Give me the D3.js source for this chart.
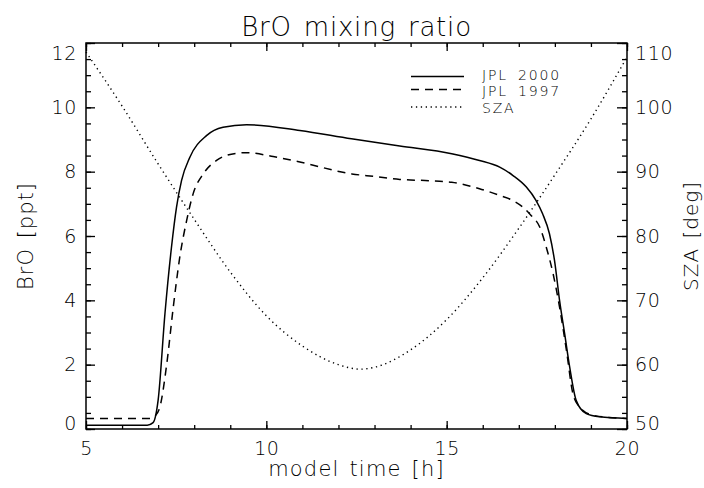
<!DOCTYPE html>
<html>
<head>
<meta charset="utf-8">
<script src="https://cdn.jsdelivr.net/npm/d3@7"></script>
<style>
  body { margin: 0; background: #fff; }
  svg text { font-family: "DejaVu Sans", sans-serif; font-weight: 200; fill: #000; }
</style>
</head>
<body>
<div id="chart"></div>
<script>
// model time [h] and BrO [ppt]
let timeJPL2000 = [5, 6, 6.7, 6.86, 7.0, 7.19, 7.37, 7.51, 7.65, 7.88, 8.34, 8.8, 9.45, 10.93, 12.36, 13.7, 15.14, 15.91, 16.47, 16.84, 17.21, 17.48, 17.66, 17.85, 17.99, 18.13, 18.27, 18.41, 18.59, 18.87, 19.24, 20];
let brJPL2000 = [0.12, 0.12, 0.12, 0.2, 0.9, 3.6, 5.65, 6.9, 7.73, 8.45, 9.12, 9.38, 9.46, 9.28, 9.02, 8.8, 8.56, 8.35, 8.14, 7.88, 7.52, 7.1, 6.69, 6.07, 5.24, 4.0, 2.97, 1.93, 0.89, 0.48, 0.38, 0.33];

let timeJPL1997 = [5, 6, 6.8, 6.91, 7.05, 7.24, 7.42, 7.6, 7.79, 7.97, 8.25, 8.62, 9.17, 9.45, 10.19, 10.93, 12.37, 13.0, 13.7, 14.5, 15.14, 15.91, 16.47, 16.84, 17.11, 17.34, 17.58, 17.76, 17.95, 18.13, 18.32, 18.5, 18.68, 19.05, 19.5, 20];
let brJPL1997 = [0.33, 0.33, 0.33, 0.4, 0.69, 2.03, 3.79, 5.34, 6.48, 7.31, 7.93, 8.35, 8.57, 8.59, 8.47, 8.3, 7.93, 7.85, 7.76, 7.72, 7.67, 7.47, 7.26, 7.1, 6.9, 6.64, 6.28, 5.66, 4.83, 3.79, 2.45, 1.10, 0.69, 0.43, 0.36, 0.33];

// solar zenith angle [deg]
let timeSZA = [5, 6, 7, 8, 9, 10, 11, 12, 12.6, 13, 14, 15, 16, 17, 18, 19, 20];
let sza = [108.6, 100.2, 91.2, 82.6, 74.4, 67.6, 62.9, 60.0, 59.3, 59.6, 62.3, 67.0, 73.5, 81.2, 89.5, 98.2, 107.8];

let xTicks = [5, 10, 15, 20];
let yLeftTicks = [0, 2, 4, 6, 8, 10, 12];
let yRightTicks = [50, 60, 70, 80, 90, 100, 110];

let legendLabels = ["JPL 2000", "JPL 1997", "SZA"];

let width = 704;
let height = 488;
let margin = {left: 86, right: 77, top: 43, bottom: 59};
let plotW = width - margin.left - margin.right;
let plotH = height - margin.top - margin.bottom;

let x = d3.scaleLinear().domain([5, 20]).range([0, plotW]);
let yL = d3.scaleLinear().domain([0, 12]).range([plotH, 0]);
let yR = d3.scaleLinear().domain([50, 110]).range([plotH, 0]);

let svg = d3.select("#chart")
	.append("svg")
	.attr("width", width)
	.attr("height", height);

let g = svg.append("g")
	.attr("transform", "translate(" + margin.left + "," + margin.top + ")");

// minor ticks
let minorX = d3.range(5, 20.01, 1);
let minorL = d3.range(0, 12.01, 0.5);
let minorR = d3.range(50, 110.01, 2.5);

function noLabels(axis) { return axis.tickFormat(""); }

g.append("g").attr("transform", "translate(0," + plotH + ")")
	.call(noLabels(d3.axisBottom(x).tickValues(minorX).tickSizeInner(-4).tickSizeOuter(0)));
g.append("g")
	.call(noLabels(d3.axisTop(x).tickValues(minorX).tickSizeInner(-4).tickSizeOuter(0)));
g.append("g")
	.call(noLabels(d3.axisLeft(yL).tickValues(minorL).tickSizeInner(-5).tickSizeOuter(0)));
g.append("g").attr("transform", "translate(" + plotW + ",0)")
	.call(noLabels(d3.axisRight(yR).tickValues(minorR).tickSizeInner(-5).tickSizeOuter(0)));

// major ticks with labels
let xAxis = g.append("g").attr("class", "axis").attr("transform", "translate(0," + plotH + ")")
	.call(d3.axisBottom(x).tickValues(xTicks).tickSizeInner(-8).tickSizeOuter(0).tickPadding(13));
g.append("g")
	.call(noLabels(d3.axisTop(x).tickValues(xTicks).tickSizeInner(-8).tickSizeOuter(0)));
let leftAxis = g.append("g").attr("class", "axis")
	.call(d3.axisLeft(yL).tickValues(yLeftTicks).tickSizeInner(-9).tickSizeOuter(0).tickPadding(9));
let rightAxis = g.append("g").attr("class", "axis").attr("transform", "translate(" + plotW + ",0)")
	.call(d3.axisRight(yR).tickValues(yRightTicks).tickSizeInner(-10).tickSizeOuter(0).tickPadding(8));

g.selectAll(".domain").remove();
g.selectAll(".tick line").attr("stroke", "#000").attr("stroke-width", 1.3);
g.selectAll(".axis text")
	.style("font-size", "19px")
	.style("letter-spacing", "0.6px");

// end labels sit a bit inside the frame
leftAxis.selectAll(".tick text").attr("dy", d => d == 12 ? "0.85em" : d == 0 ? "0" : "0.32em");
rightAxis.selectAll(".tick text").attr("dy", d => d == 110 ? "0.85em" : d == 50 ? "0" : "0.32em");

// frame
g.append("rect")
	.attr("width", plotW)
	.attr("height", plotH)
	.attr("fill", "none")
	.attr("stroke", "#000")
	.attr("stroke-width", 1.5);

let lineL = d3.line()
	.x(d => x(d[0]))
	.y(d => yL(d[1]))
	.curve(d3.curveMonotoneX);

let lineR = d3.line()
	.x(d => x(d[0]))
	.y(d => yR(d[1]))
	.curve(d3.curveMonotoneX);

g.append("path")
	.datum(d3.zip(timeJPL2000, brJPL2000))
	.attr("d", lineL)
	.attr("fill", "none")
	.attr("stroke", "#000")
	.attr("stroke-width", 1.5);

g.append("path")
	.datum(d3.zip(timeJPL1997, brJPL1997))
	.attr("d", lineL)
	.attr("fill", "none")
	.attr("stroke", "#000")
	.attr("stroke-width", 1.5)
	.attr("stroke-dasharray", "8,6");

g.append("path")
	.datum(d3.zip(timeSZA, sza))
	.attr("d", lineR)
	.attr("fill", "none")
	.attr("stroke", "#000")
	.attr("stroke-width", 1.4)
	.attr("stroke-dasharray", "1.3,3.6");

// legend
let legendDash = [null, "8,6", "1.3,3.6"];
let legendLineY = [76.5, 89.5, 107];
let legendTextY = [79.5, 96, 112.5];

let legend = svg.append("g");
legendLabels.forEach(function(label, i) {
	legend.append("line")
		.attr("x1", 411).attr("x2", 464)
		.attr("y1", legendLineY[i]).attr("y2", legendLineY[i])
		.attr("stroke", "#000")
		.attr("stroke-width", 1.4)
		.attr("stroke-dasharray", legendDash[i]);
	legend.append("text")
		.attr("x", 482)
		.attr("y", legendTextY[i])
		.style("font-size", "14px")
		.style("letter-spacing", "1.8px")
		.style("word-spacing", "4px")
		.text(label);
});

// titles
svg.append("text")
	.attr("x", margin.left + plotW / 2)
	.attr("y", 36)
	.attr("text-anchor", "middle")
	.style("font-size", "26px")
	.style("letter-spacing", "0.8px")
	.style("word-spacing", "3px")
	.text("BrO mixing ratio");

svg.append("text")
	.attr("x", margin.left + plotW / 2)
	.attr("y", 476)
	.attr("text-anchor", "middle")
	.style("font-size", "21px")
	.style("letter-spacing", "1.2px")
	.style("word-spacing", "2px")
	.text("model time [h]");

svg.append("text")
	.attr("transform", "translate(33," + (margin.top + plotH / 2) + ") rotate(-90)")
	.attr("text-anchor", "middle")
	.style("font-size", "21px")
	.style("letter-spacing", "1px")
	.style("word-spacing", "2px")
	.text("BrO [ppt]");

svg.append("text")
	.attr("transform", "translate(698," + (margin.top + plotH / 2) + ") rotate(-90)")
	.attr("text-anchor", "middle")
	.style("font-size", "20px")
	.style("letter-spacing", "1px")
	.style("word-spacing", "2px")
	.text("SZA [deg]");
</script>
</body>
</html>
